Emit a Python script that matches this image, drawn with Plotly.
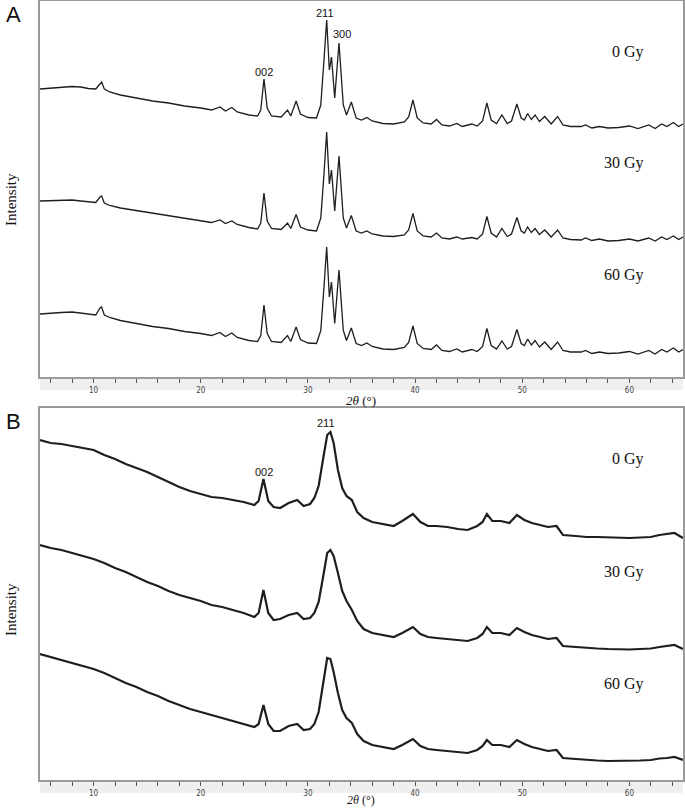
import plotly.graph_objects as go

W, H = 685, 809

# ---------------- Panel A data (2theta in degrees, relative intensity) ----------------
two_theta_A = [
    5.0, 6.0, 7.0, 8.0, 8.8, 9.5, 10.2, 10.6, 10.75, 11.0,
    11.5, 12.5, 14.0, 15.5, 17.0, 18.5, 20.0, 21.0, 21.8, 22.3,
    22.9, 23.4, 24.5, 25.3, 25.6, 25.9, 26.2, 26.6, 27.5, 28.1,
    28.4, 28.9, 29.3, 30.0, 30.8, 31.2, 31.5, 31.75, 32.0, 32.2,
    32.5, 32.9, 33.3, 33.6, 34.05, 34.5, 35.0, 35.5, 36.0, 37.0,
    38.0, 39.0, 39.4, 39.8, 40.2, 40.75, 41.5, 42.0, 42.5, 43.2,
    43.9, 44.4, 45.3, 45.8, 46.3, 46.7, 47.1, 47.6, 48.1, 48.6,
    49.0, 49.5, 49.9, 50.2, 50.5, 50.85, 51.2, 51.6, 52.1, 52.7,
    53.3, 53.8, 54.5, 55.5, 55.9, 56.5, 57.2, 58.0, 59.0, 60.0,
    60.8, 61.8, 62.4, 63.0, 63.5, 64.1, 64.6, 65.0,
]
A_0Gy = [
    62, 63, 64, 64.5, 64, 62.5, 62, 68, 69, 62,
    59, 56, 53, 50, 48, 45, 43, 41, 44, 40,
    43.5, 39, 36, 35, 41, 72, 43, 35, 34, 41,
    35, 50, 37, 33.5, 33, 46, 91, 131, 81, 94,
    53, 108, 46, 36, 49, 33, 31, 33.5, 30, 27.5,
    27, 29, 34, 51, 33, 28, 27, 31.5, 26, 25,
    27.5, 24.5, 27, 25, 30, 48, 31, 27.5, 36, 27.5,
    30, 47, 33, 31, 37.5, 31.5, 36, 29.5, 34.5, 27,
    34.5, 26, 24.5, 24.5, 26, 23, 24.5, 23, 23.5, 25,
    22.5, 26, 22.5, 27, 24.5, 28.5, 24.5, 27,
]
A_30Gy = [
    63, 63.5, 64, 64, 63, 62, 61.5, 67, 68, 61,
    58.5, 56, 53.5, 50.5, 48, 45.5, 43, 41.5, 44, 40.5,
    43, 39.5, 36.5, 35, 41, 71, 43, 35.5, 34.5, 41,
    35.5, 49.5, 37, 34, 33, 46, 90, 132, 80, 94,
    53, 108, 46, 36, 48.5, 33, 31, 33, 30, 28,
    27.5, 29, 34, 50.5, 33, 28, 27, 31, 26, 25,
    27, 25, 26.5, 25, 30, 47.5, 31, 27, 35.5, 27.5,
    30, 46.5, 33, 31, 37, 31.5, 35.5, 29.5, 34, 27,
    34, 26, 24.5, 24, 26, 23.5, 25, 23, 23.5, 25,
    23, 26, 23, 27, 24.5, 28, 24.5, 27,
]
A_60Gy = [
    63, 64, 64.5, 65, 64, 62.5, 62, 69, 70, 62,
    59.5, 56.5, 53.5, 50.5, 48.5, 45.5, 43.5, 41.5, 44.5, 40.5,
    44, 39.5, 36.5, 35.5, 41.5, 72, 43.5, 35.5, 34.5, 41.5,
    35.5, 50, 37.5, 34, 33.5, 46.5, 90, 130, 80, 95,
    53.5, 107, 46.5, 36.5, 49, 33.5, 31.5, 34, 30.5, 28,
    27.5, 29.5, 34.5, 51, 33.5, 28.5, 27.5, 32, 26.5, 25.5,
    28, 25, 27.5, 25.5, 30.5, 48.5, 31.5, 28, 36, 28,
    30.5, 47.5, 33.5, 31.5, 38, 32, 36.5, 30, 35, 27.5,
    35, 26.5, 25, 25, 26.5, 23.5, 25, 23.5, 24, 25.5,
    23, 26.5, 23, 27.5, 25, 29, 25, 27.5,
]

# ---------------- Panel B data ----------------
two_theta_B = [
    5.0, 6.0, 7.0, 8.0, 9.0, 10.0, 11.0, 12.0, 13.0, 14.0,
    15.0, 16.0, 17.0, 18.0, 19.0, 20.0, 21.0, 22.0, 23.0, 24.0,
    25.0, 25.4, 25.85, 26.3, 26.8, 27.4, 28.2, 29.0, 29.6, 30.2,
    30.6, 31.0, 31.4, 31.8, 32.1, 32.4, 32.8, 33.2, 33.6, 34.1,
    34.6, 35.2, 36.0, 37.0, 38.0, 38.8, 39.8, 40.5, 41.2, 42.0,
    43.0, 44.0, 44.9, 45.8, 46.3, 46.7, 47.2, 48.0, 48.8, 49.5,
    50.2, 50.9, 51.7, 52.4, 53.2, 53.8, 55.0, 56.0, 57.0, 58.0,
    59.0, 60.0, 61.0, 62.0, 62.8, 63.5, 64.2, 65.0,
]
B_0Gy = [
    116, 113, 112, 110, 108, 106, 101, 97, 92, 88,
    84, 79, 74, 69, 65, 62, 59, 58, 56, 54,
    51, 55, 77, 55, 49, 48, 53, 56, 50, 52,
    58, 70, 96, 121, 124, 113, 86, 68, 60, 56,
    44, 38, 34, 32, 30, 35, 42, 34, 30, 30,
    29, 27, 26, 30, 34, 42, 35, 35, 33, 41,
    36, 33, 31, 29, 30, 21, 20, 19, 19, 18.5,
    18, 18, 18.5, 19, 21, 22, 23, 18,
]
B_30Gy = [
    123, 120, 118, 115, 112, 109, 105, 100, 96, 91,
    86, 82, 77, 73, 70, 67, 63, 61, 58, 55,
    51, 55, 78, 55, 48, 49, 53, 55, 49, 50,
    55, 66, 90, 115, 118, 112, 95, 77, 67, 58,
    47, 39, 35, 33, 31, 35, 41, 34, 31, 30,
    29, 28, 27, 30, 34, 41, 35, 35, 33, 40,
    36, 33, 31, 29, 30, 22, 21, 20, 19.5, 19,
    18.5, 18.5, 19, 19.5, 21, 22, 23, 19,
]
B_60Gy = [
    126, 123, 120, 117, 114, 111, 107, 102, 97, 93,
    88, 84, 79, 75, 71, 68, 65, 62, 59, 56,
    53, 56, 75, 56, 49, 49, 54, 56, 50, 51,
    56, 68, 95, 122, 121, 108, 87, 70, 62, 57,
    46, 39, 35, 33, 31, 35, 41, 34, 31, 30,
    29, 28, 27, 30, 34, 40, 35, 35, 33, 40,
    36, 33, 31, 29, 30, 22, 21, 20, 19.5, 19,
    19, 19, 19.5, 20, 21.5, 22, 23, 20,
]

doses = ["0 Gy", "30 Gy", "60 Gy"]
stack_offset_A = [226, 113, 0]
stack_offset_B = [224, 112, 0]
tick_vals = list(range(6, 65, 2))
tick_text = [str(v) if v % 10 == 0 else "" for v in tick_vals]


def px(x):
    return x / W


def py(y):
    return 1 - y / H


fig = go.Figure()
LINE = "#1e1e1e"
for ys, off in zip([A_0Gy, A_30Gy, A_60Gy], stack_offset_A):
    fig.add_trace(go.Scatter(x=two_theta_A, y=[v + off for v in ys], mode="lines",
                             line=dict(color=LINE, width=1.3), xaxis="x", yaxis="y",
                             showlegend=False, hoverinfo="skip"))
for ys, off in zip([B_0Gy, B_30Gy, B_60Gy], stack_offset_B):
    fig.add_trace(go.Scatter(x=two_theta_B, y=[v + off for v in ys], mode="lines",
                             line=dict(color=LINE, width=2.2), xaxis="x2", yaxis="y2",
                             showlegend=False, hoverinfo="skip"))

xdom = [px(40), px(683)]
axcol = "#9a9a9a"
xcommon = dict(domain=xdom, range=[5, 65], showgrid=False, zeroline=False,
               showline=True, mirror=True, linecolor=axcol, linewidth=2,
               ticks="outside", ticklen=4, tickwidth=1, tickcolor="#555",
               tickvals=tick_vals, ticktext=tick_text,
               tickfont=dict(family="Liberation Sans Narrow, DejaVu Sans Condensed, sans-serif",
                             size=8, color="#444"))
ycommon = dict(showgrid=False, zeroline=False, showline=True, mirror=True,
               linecolor=axcol, linewidth=2, showticklabels=False, ticks="")

fig.update_layout(
    width=W, height=H, margin=dict(l=0, r=0, t=0, b=0),
    paper_bgcolor="white", plot_bgcolor="white",
    xaxis=dict(anchor="y", **xcommon),
    yaxis=dict(anchor="x", domain=[py(377), py(1)], range=[0, 376], **ycommon),
    xaxis2=dict(anchor="y2", **xcommon),
    yaxis2=dict(anchor="x2", domain=[py(780), py(408)], range=[0, 372], **ycommon),
)

shapes = []
for ybot in (377, 780):
    shapes.append(dict(type="rect", xref="paper", yref="paper", x0=px(40), x1=px(683),
                       y0=py(ybot + 13), y1=py(ybot), fillcolor="#efefef",
                       line=dict(width=0), layer="below"))
fig.update_layout(shapes=shapes)

SERIF = "Liberation Serif, Times New Roman, serif"
SANS = "Liberation Sans, Arial, sans-serif"
anns = []


def ann(text, x, y, size, family, xanchor="center", angle=0, color="#111"):
    anns.append(dict(text=text, x=px(x), y=py(y), xref="paper", yref="paper",
                     showarrow=False, xanchor=xanchor, yanchor="middle",
                     textangle=angle, font=dict(size=size, family=family, color=color)))


ann("A", 13, 14, 22, SANS)
ann("B", 13, 422, 22, SANS)
ann("Intensity", 11, 200, 15, SERIF, angle=-90)
ann("Intensity", 11, 610, 15, SERIF, angle=-90)
ann("<i>2θ</i> (°)", 361, 400, 13, SERIF)
ann("<i>2θ</i> (°)", 361, 800, 12, SERIF)
# peak labels
ann("211", 325, 13, 11, SANS, color="#111")
ann("300", 342, 34, 11, SANS, color="#111")
ann("002", 264, 72, 11, SANS, color="#111")
ann("211", 326, 423, 11, SANS, color="#111")
ann("002", 264, 472, 11, SANS, color="#111")
# dose labels
for d, y in zip(doses, [52, 163, 275]):
    ann(d, 646, y, 16, SERIF, xanchor="right")
for d, y in zip(doses, [459, 572, 684]):
    ann(d, 646, y, 16, SERIF, xanchor="right")

fig.update_layout(annotations=anns)
fig.write_html("out.html", config={"displayModeBar": False},
               post_script="document.body.style.margin='0';")
